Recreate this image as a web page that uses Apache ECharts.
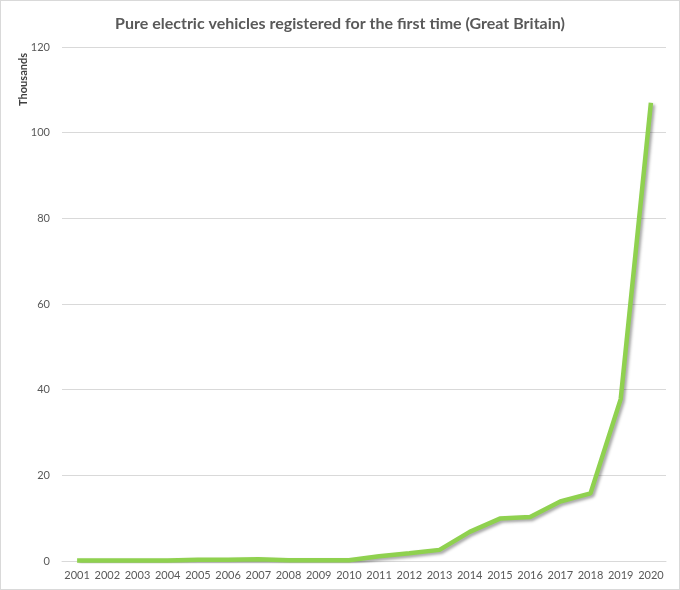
<!DOCTYPE html>
<html>
<head>
<meta charset="utf-8">
<script src="https://cdn.jsdelivr.net/npm/echarts@6/dist/echarts.min.js"></script>
<style>
html,body{margin:0;padding:0;background:#fff;}
#wrap{position:absolute;left:0;top:0;width:678px;height:588px;border:1px solid #d9d9d9;}
#chart{width:678px;height:588px;}
</style>
</head>
<body>
<div id="wrap"><div id="chart"></div></div>
<script>
const years = ['2001','2002','2003','2004','2005','2006','2007','2008','2009','2010','2011','2012','2013','2014','2015','2016','2017','2018','2019','2020'];
const registrations = [0.1,0.1,0.1,0.1,0.3,0.3,0.4,0.2,0.2,0.2,1.1,1.8,2.6,6.8,9.9,10.3,13.9,15.8,37.8,107.0];
const yTicks = [0,20,40,60,80,100,120];

const chart = echarts.init(document.getElementById('chart'));
chart.setOption({
  animation:false,
  title:{
    text:'Pure electric vehicles registered for the first time (Great Britain)',
    left:'center', top:10,
    textStyle:{fontFamily:'Lato', fontWeight:'bold', fontSize:16, color:'#595959'}
  },
  graphic:[{
    type:'text', left:17, top:52, rotation:Math.PI/2,
    style:{text:'Thousands', font:'bold 11px Lato', fill:'#404040'}
  }],
  grid:{left:61, right:13, top:46, bottom:28, containLabel:false, outerBoundsMode:'none'},
  xAxis:{
    type:'category', data:years, boundaryGap:true,
    axisLine:{lineStyle:{color:'#d9d9d9'}},
    axisTick:{show:false},
    axisLabel:{color:'#595959', fontFamily:'Lato', fontSize:11, margin:9, interval:0}
  },
  yAxis:{
    type:'value', min:yTicks[0], max:yTicks[yTicks.length-1], interval:20,
    axisLine:{show:false}, axisTick:{show:false},
    splitLine:{lineStyle:{color:'#d9d9d9'}},
    axisLabel:{color:'#595959', fontFamily:'Lato', fontSize:11, margin:12}
  },
  series:[{
    type:'line', data:registrations, showSymbol:false, symbol:'none',
    lineStyle:{color:'#8fd14f', width:4.5, shadowColor:'rgba(0,0,0,0.35)', shadowBlur:3, shadowOffsetX:2, shadowOffsetY:2}
  }]
});
</script>
</body>
</html>
